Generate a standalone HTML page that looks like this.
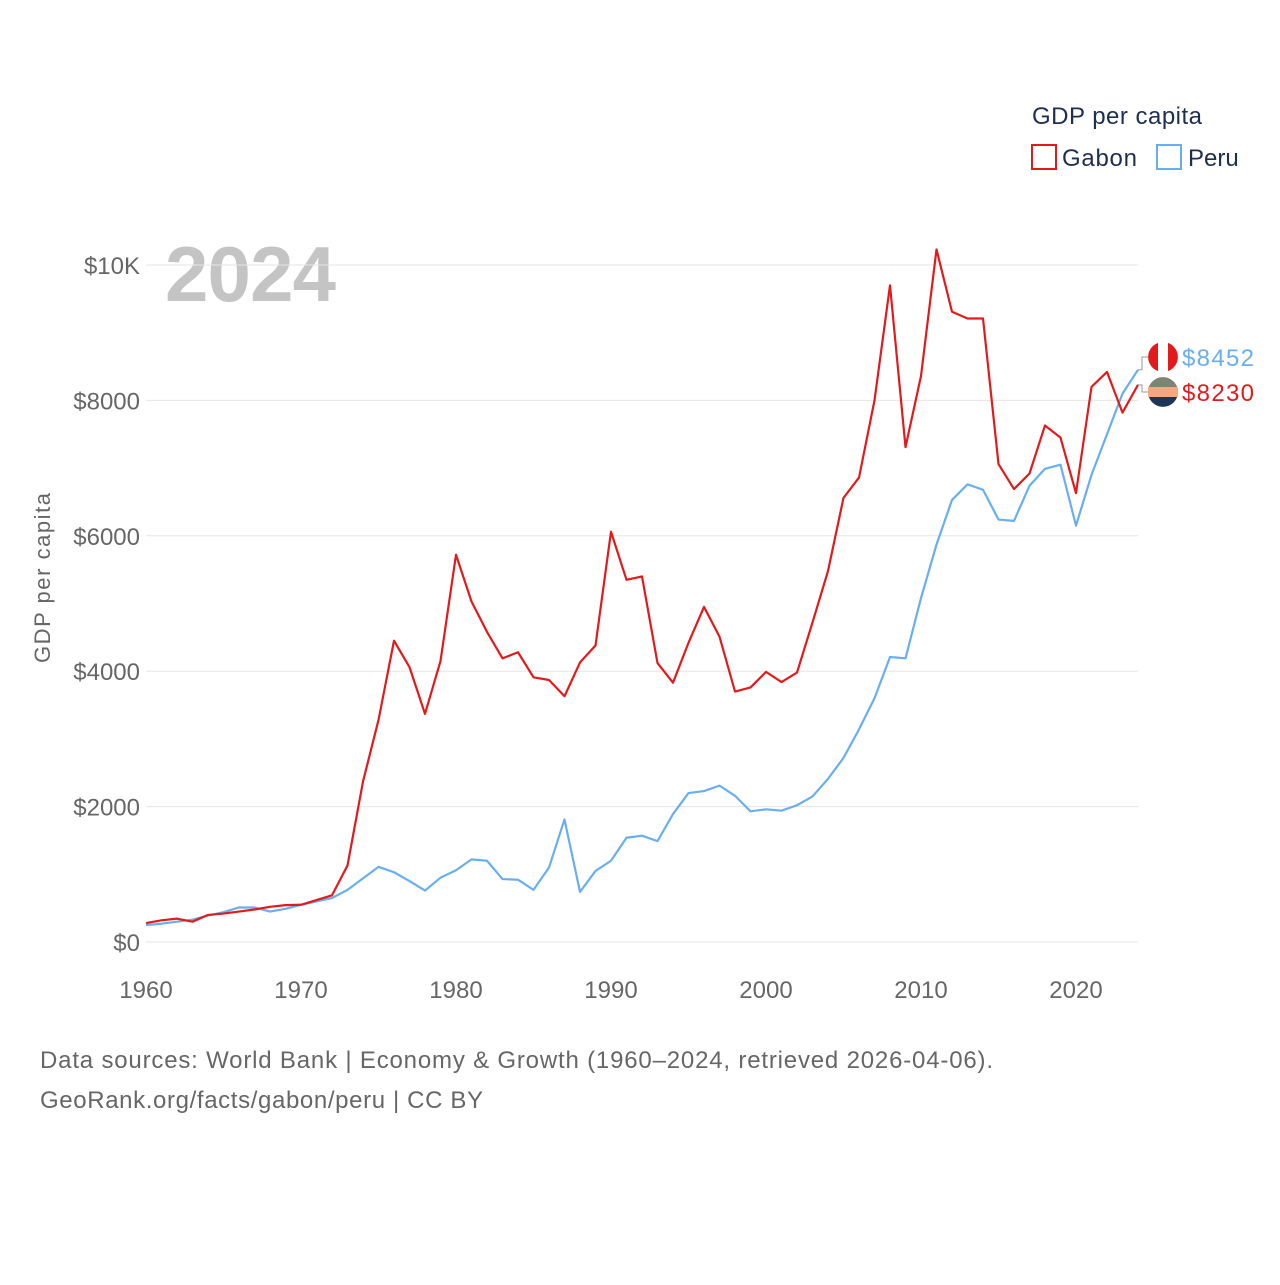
<!DOCTYPE html>
<html><head><meta charset="utf-8"><style>
body{margin:0;background:#fff;width:1280px;height:1280px;overflow:hidden;font-family:"Liberation Sans",sans-serif}
</style></head><body>
<svg id="chart" width="1280" height="1280" xmlns="http://www.w3.org/2000/svg">
<text x="1032" y="124" font-size="24" fill="#1d2f4f" textLength="170">GDP per capita</text>
<g><rect x="1032" y="145" width="24" height="24" fill="none" stroke="#e31a1c" stroke-width="2"/><text x="1062" y="166" font-size="24" fill="#1d2f4f" textLength="75">Gabon</text></g>
<g><rect x="1157" y="145" width="24" height="24" fill="none" stroke="#6aaef0" stroke-width="2"/><text x="1188" y="166" font-size="24" fill="#1d2f4f">Peru</text></g>
<text x="165" y="301" font-size="78" font-weight="bold" fill="#c4c4c4" textLength="171">2024</text>
<text transform="translate(50,578) rotate(-90)" text-anchor="middle" font-size="22" fill="#666" textLength="170">GDP per capita</text>
<g id="grid"></g><g id="series"></g>
<text x="40" y="1068" font-size="24" fill="#666" textLength="953">Data sources: World Bank | Economy &amp; Growth (1960–2024, retrieved 2026-04-06).</text>
<text x="40" y="1108" font-size="24" fill="#666" textLength="443">GeoRank.org/facts/gabon/peru | CC BY</text>
</svg>
<script>
const years=[];for(let y=1960;y<=2024;y++)years.push(y);
const gabon=[280,320,345,300,400,420,450,480,520,545,550,620,690,1130,2370,3280,4450,4060,3370,4150,5720,5030,4580,4190,4280,3910,3870,3630,4130,4380,6060,5350,5400,4120,3830,4420,4950,4510,3700,3760,3990,3840,3980,4720,5480,6560,6860,8000,9700,7310,8360,10230,9310,9210,9210,7060,6690,6920,7630,7450,6630,8200,8420,7820,8230];
const peru=[250,270,300,330,390,440,510,510,450,490,550,600,650,770,940,1110,1030,900,760,950,1060,1220,1200,930,920,770,1100,1810,740,1050,1200,1540,1570,1490,1890,2200,2230,2310,2160,1930,1960,1940,2020,2150,2410,2720,3140,3600,4210,4190,5080,5870,6530,6760,6680,6240,6220,6740,6990,7050,6150,6900,7500,8100,8452];
const yTicks=[0,2000,4000,6000,8000,10000];
const yTickLabels=["$0","$2000","$4000","$6000","$8000","$10K"];
const xTicks=[1960,1970,1980,1990,2000,2010,2020];
const NS="http://www.w3.org/2000/svg";
const xs=y=>146+(y-1960)*15.5;
const ys=v=>942-v*0.0677;
const grid=document.getElementById('grid'),ser=document.getElementById('series');
function mk(tag,attrs,parent){const e=document.createElementNS(NS,tag);for(const k in attrs)e.setAttribute(k,attrs[k]);parent.appendChild(e);return e;}
yTicks.forEach((t,i)=>{
 const l=mk('line',{x1:146,x2:1138,y1:ys(t),y2:ys(t),stroke:'#e6e6e6','stroke-width':1},grid);
 
 
 const tx=mk('text',{x:140,y:ys(t)+9,'text-anchor':'end','font-size':24,fill:'#666'},grid);
 tx.textContent=yTickLabels[i];
 
 
});
xTicks.forEach(t=>{
 const tx=mk('text',{x:xs(t),y:998,'text-anchor':'middle','font-size':24,fill:'#666'},grid);
 tx.textContent=t;
 
 
});
function line(data,color,name){
 const p=mk('polyline',{points:data.map((v,i)=>xs(years[i])+','+ys(v)).join(' '),fill:'none',stroke:color,'stroke-width':2.2,'stroke-linejoin':'round'},ser);
 
 
}
line(peru,'#6aaef0','peru-line');
line(gabon,'#e31a1c','gabon-line');
const lx=xs(2024);
function endLabel(v,ly,color,name,flag){
 mk('polyline',{points:`${lx},${ys(v)} ${lx+4},${ys(v)} ${lx+4},${ly} ${lx+10},${ly}`,fill:'none',stroke:'#999','stroke-width':1},ser);
 const g=mk('g',{},ser);
 
 
 flag(g,1163,ly);
 const t=mk('text',{x:1182,y:ly+9,'font-size':24,fill:color},ser);
 t.textContent='$'+v;
 t.setAttribute('textLength','72');
 
 
}
endLabel(peru[peru.length-1],357,'#6aaef0','peru',(g,cx,cy)=>{
 mk('circle',{cx,cy,r:15,fill:'#fff'},g);
 mk('path',{d:`M${cx-5},${cy-14.1} A15,15 0 0 0 ${cx-5},${cy+14.1}Z`,fill:'#e31a1c'},g);
 mk('path',{d:`M${cx+5},${cy-14.1} A15,15 0 0 1 ${cx+5},${cy+14.1}Z`,fill:'#e31a1c'},g);
});
endLabel(gabon[gabon.length-1],392,'#e31a1c','gabon',(g,cx,cy)=>{
 mk('path',{d:`M${cx-14.1},${cy-5} A15,15 0 0 1 ${cx+14.1},${cy-5}Z`,fill:'#7c8474'},g);
 mk('rect',{x:cx-15,y:cy-5,width:30,height:10,fill:'#f4a882'},g);
 mk('path',{d:`M${cx-14.1},${cy+5} A15,15 0 0 0 ${cx+14.1},${cy+5}Z`,fill:'#1d3557'},g);
});
</script>
</body></html>
